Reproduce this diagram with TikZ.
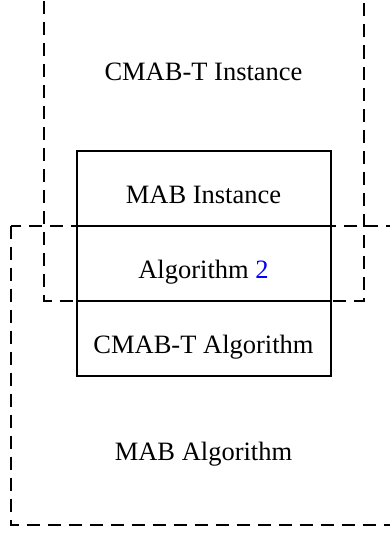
\documentclass[tikz,border=0pt]{standalone}
\usepackage{fontspec}
\setmainfont{Liberation Serif}
\usetikzlibrary{positioning}
\tikzset{
  layer/.style={draw, line width=2pt, minimum width=254pt, minimum height=75pt, inner sep=0pt, outer sep=0pt, text height=30pt, text depth=0pt},
  region/.style={line width=2pt, dash pattern=on 13pt off 8pt},
  lbl/.style={font=\fontsize{26.5}{30}\selectfont}
}
\begin{document}
\begin{tikzpicture}[x=1pt, y=-1pt]
      \useasboundingbox (0,0) rectangle (390,535);
      \clip (0,0) rectangle (390,535);
      % solid stack
      \node[layer, lbl] (inst) at (203.5,188) {MAB Instance};
      \node[layer, lbl, below=0pt of inst] (alg) {Algorithm \textcolor{blue}{2}};
      \node[layer, lbl, below=0pt of alg] (cmabalg) {CMAB-T Algorithm};
      % dashed regions
      \draw[region] (44,-20) rectangle (363.5,300.5);
      \draw[region] (11,225.5) rectangle (420,525);
      \node[lbl] (cmabinst) at (203.5,72) {CMAB-T Instance};
      \node[lbl] (mabalg) at (203.5,454) {MAB Algorithm};
    \end{tikzpicture}
\end{document}
